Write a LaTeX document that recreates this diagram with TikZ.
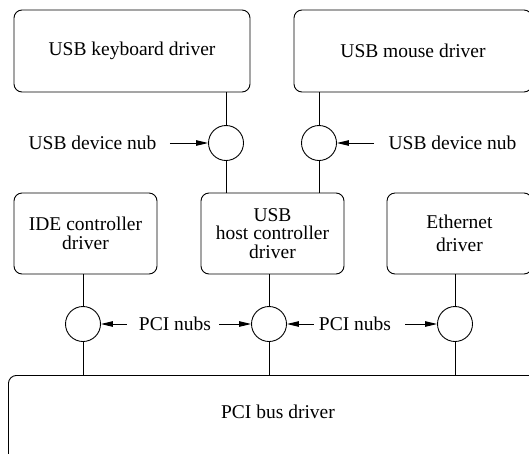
\documentclass[tikz,border=0pt]{standalone}
\usepackage{fontspec}
\setmainfont{Liberation Serif}
\usetikzlibrary{arrows.meta,positioning}

\begin{document}
\begin{tikzpicture}[
  x=1pt,y=-1pt,
  font=\fontsize{19.5}{18.5}\selectfont,
  line width=0.9pt,
  box/.style={draw,rounded corners=8pt,align=center,inner sep=0pt},
  nub/.style={draw,circle,minimum size=35pt,inner sep=0pt},
  tag/.style={inner sep=0pt},
  flow/.style={-{Triangle[length=12pt,width=5.5pt]}}
]
\useasboundingbox (0,0) rectangle (529,453);
\node[box,minimum width=236pt,minimum height=82pt] (kbd) at (132,51) {USB keyboard driver};
\node[box,minimum width=238pt,minimum height=82pt] (mouse) at (413,51) {USB mouse driver};
\node[box,minimum width=143pt,minimum height=81pt] (ide) at (85.5,233.5) {IDE controller\\driver};
\node[box,minimum width=143pt,minimum height=81pt] (host) at (272.5,233.5) {USB\\host controller\\driver};
\node[box,minimum width=145pt,minimum height=81pt] (eth) at (459.5,233.5) {Ethernet\\[5pt]driver};
\node[box,minimum width=545pt,minimum height=90pt,anchor=north west] (pci) at (8,375) {};
\node (pcitext) at (278,412) {PCI bus driver};

\node[nub] (usbk) at (226,143) {};
\node[nub] (usbm) at (319,143) {};
\node[nub] (nubide) at (83,324) {};
\node[nub] (nubhost) at (269,324) {};
\node[nub] (nubeth) at (455,324) {};

\draw (usbk |- kbd.south) -- (usbk);
\draw (usbk) -- (usbk |- host.north);
\draw (usbm |- mouse.south) -- (usbm);
\draw (usbm) -- (usbm |- host.north);
\draw (nubide |- ide.south) -- (nubide);
\draw (nubide) -- (nubide |- pci.north);
\draw (nubhost |- host.south) -- (nubhost);
\draw (nubhost) -- (nubhost |- pci.north);
\draw (nubeth |- eth.south) -- (nubeth);
\draw (nubeth) -- (nubeth |- pci.north);

\node[tag] (tagk) at (92.5,143) {USB device nub};
\node[tag] (tagm) at (452.5,143) {USB device nub};
\node[tag] (tagpa) at (175,324) {PCI nubs};
\node[tag] (tagpb) at (355,324) {PCI nubs};

\draw[flow] ([xshift=13pt]tagk.east) -- (usbk);
\draw[flow] ([xshift=-14pt]tagm.west) -- (usbm);
\draw[flow] ([xshift=-12pt]tagpa.west) -- (nubide);
\draw[flow] ([xshift=8pt]tagpa.east) -- (nubhost);
\draw[flow] ([xshift=-5pt]tagpb.west) -- (nubhost);
\draw[flow] ([xshift=14pt]tagpb.east) -- (nubeth);
\end{tikzpicture}
\end{document}
